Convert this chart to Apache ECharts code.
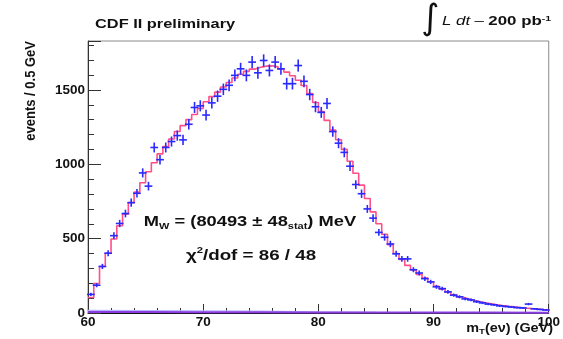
<!DOCTYPE html>
<html><head><meta charset="utf-8">
<script src="https://cdn.jsdelivr.net/npm/echarts@6/dist/echarts.min.js"></script>
<style>html,body{margin:0;padding:0;background:#fff}#c{width:563px;height:339px}</style>
</head><body><div id="c"></div>
<script>
// bins: 0.5 GeV from 60 to 100 (80 bins), values at bin centres
const binStart = 60, binWidth = 0.5;
const dataCounts = [125,187,313,402,520,602,669,742,805,942,
 853,1113,1031,1113,1153,1193,1164,1269,1382,1393,
 1331,1413,1458,1504,1531,1598,1642,1598,1687,1615,
 1698,1631,1687,1642,1542,1542,1664,1558,1469,1387,
 1349,1409,1220,1142,1080,987,864,802,700,638,
 542,509,464,398,364,364,291,269,231,209,
 176,164,142,120,109,95,88,76,68,60,
 55,48,44,40,36,34,60,28,24,20];
const fitCounts = [104,198,313,402,498,587,664,742,813,876,
 950,1010,1070,1120,1170,1220,1260,1300,1335,1375,
 1420,1455,1485,1520,1550,1580,1605,1625,1640,1652,
 1660,1662,1655,1640,1620,1595,1565,1530,1475,1415,
 1355,1295,1230,1165,1100,1020,940,860,770,680,
 600,530,460,400,360,320,290,260,235,210,
 180,160,140,122,108,96,86,77,69,62,
 56,50,45,41,37,33,30,27,24,22];
const bgX = [60,65,70,75,80,85,90,95,100];
const bgPurple = [6,6,5,5,4,4,3,3,2];
const bgLavender = [18,16,14,12,8,5,3,2,1];
const xTicks = [60,70,80,90,100];
const yTicks = [0,500,1000,1500];

const FONT = '"Liberation Sans", Arial, sans-serif';
const pts = dataCounts.map((v,i)=>[binStart + binWidth*(i+0.5), v]);
const hist = fitCounts.map((v,i)=>[binStart + binWidth*i, v]);
hist.push([binStart + binWidth*fitCounts.length, fitCounts[fitCounts.length-1]]);

const chart = echarts.init(document.getElementById('c'), null, {renderer:'canvas'});
chart.setOption({
  animation:false,
  backgroundColor:'#fff',
  grid:{left:88, right:9, top:41, bottom:26, show:true, borderColor:'#8a8a8a', borderWidth:1},
  xAxis:{type:'value', min:60, max:100, interval:10,
    axisLine:{lineStyle:{color:'#111', width:1}},
    axisTick:{inside:true, length:9, lineStyle:{color:'#333'}},
    minorTick:{show:true, splitNumber:5, length:5, lineStyle:{color:'#333'}},
    axisLabel:{margin:2, fontFamily:FONT, fontWeight:'bold', fontSize:13.5, color:'#111',
      formatter:v=>xTicks.indexOf(v)>=0?String(v):''},
    splitLine:{show:false}},
  yAxis:[{type:'value', min:0, max:1829, interval:500,
    axisLine:{show:true, lineStyle:{color:'#333', width:1}},
    axisTick:{inside:true, length:13, lineStyle:{color:'#333'}},
    axisLabel:{margin:3, fontFamily:FONT, fontWeight:'bold', fontSize:13.5, color:'#111',
      formatter:v=>yTicks.indexOf(v)>=0?String(v):''},
    splitLine:{show:false}},
   {type:'value', min:0, max:1829, interval:100, position:'left',
    axisLine:{show:false}, axisTick:{inside:true, length:6, lineStyle:{color:'#333'}},
    axisLabel:{show:false}, splitLine:{show:false}}],
  series:[
    {type:'line', data:bgX.map((x,i)=>[x,bgLavender[i]]), symbol:'none', z:2,
      lineStyle:{color:'#b9b4ff', width:1.2}},
    {type:'line', data:bgX.map((x,i)=>[x,bgPurple[i]]), symbol:'none', z:3,
      lineStyle:{color:'#8a3ee0', width:2}},
    {type:'line', data:hist, step:'end', symbol:'none', z:4,
      lineStyle:{color:'#ff4f86', width:1.6}},
    {type:'custom', z:5, data:pts, renderItem:function(params, api){
      const x = api.value(0), y = api.value(1), e = Math.sqrt(y), h = binWidth/2;
      const a = api.coord([x-h,y]), b = api.coord([x+h,y]);
      const c = api.coord([x,y-e]), d = api.coord([x,y+e]);
      const st = {stroke:'#2a2aff', lineWidth:1.6};
      return {type:'group', children:[
        {type:'line', shape:{x1:a[0]-1,y1:a[1],x2:b[0]+1,y2:b[1]}, style:st},
        {type:'line', shape:{x1:c[0],y1:c[1],x2:d[0],y2:d[1]}, style:st}]};
    }}
  ],
  graphic:[
    {type:'text', x:95, y:24, scaleX:1.26, style:{text:'CDF II preliminary', fontFamily:FONT, fontWeight:'bold', fontSize:13, fill:'#111', verticalAlign:'middle'}},
    {type:'text', x:430, y:20, style:{text:'\u222B', fontFamily:'"DejaVu Sans", sans-serif', fontSize:35, fill:'#111', align:'center', verticalAlign:'middle'}},
    {type:'text', x:442, y:21, scaleX:1.3, style:{text:'{i|L dt} {n|\u2013} {b|200 pb}{sup|-1}', verticalAlign:'middle',
      rich:{i:{fontFamily:FONT, fontStyle:'italic', fontSize:13, fill:'#111'},
            n:{fontFamily:FONT, fontSize:13, fill:'#111'},
            b:{fontFamily:FONT, fontWeight:'bold', fontSize:13, fill:'#111'},
            sup:{fontFamily:FONT, fontWeight:'bold', fontSize:8, fill:'#111', verticalAlign:'top', lineHeight:8}}}},
    {type:'text', x:31, y:41, rotation:Math.PI/2, scaleY:1.15, style:{text:'events / 0.5 GeV', fontFamily:FONT, fontWeight:'bold', fontSize:13, fill:'#111', align:'right', verticalAlign:'middle'}},
    {type:'text', x:553, y:329, scaleX:1.2, style:{text:'{b|m}{s|T}{b|(e\u03BD) (GeV)}', align:'right', verticalAlign:'middle',
      rich:{b:{fontFamily:FONT, fontWeight:'bold', fontSize:12, fill:'#111', lineHeight:14},
            s:{fontFamily:FONT, fontWeight:'bold', fontSize:8, fill:'#111', verticalAlign:'bottom', lineHeight:8}}}},
    {type:'text', x:250, y:222, scaleX:1.22, style:{text:'{b|M}{s|W}{b| = (80493 \u00B1 48}{s|stat}{b|) MeV}', align:'center', verticalAlign:'middle',
      rich:{b:{fontFamily:FONT, fontWeight:'bold', fontSize:15, fill:'#111', lineHeight:19},
            s:{fontFamily:FONT, fontWeight:'bold', fontSize:9, fill:'#111', verticalAlign:'bottom', lineHeight:9}}}},
    {type:'text', x:251, y:256, scaleX:1.25, style:{text:'{b|\u03C7}{sup|2}{b|/dof = 86 / 48}', align:'center', verticalAlign:'middle',
      rich:{b:{fontFamily:FONT, fontWeight:'bold', fontSize:15, fill:'#111', lineHeight:19},
            sup:{fontFamily:FONT, fontWeight:'bold', fontSize:9, fill:'#111', verticalAlign:'top', lineHeight:9}}}}
  ]
});
</script></body></html>
